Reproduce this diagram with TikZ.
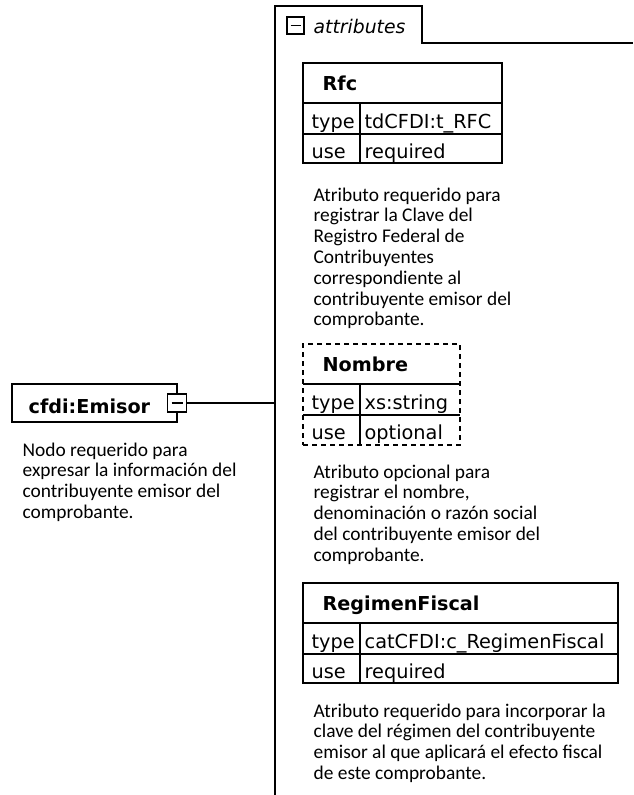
\documentclass[tikz,border=0pt]{standalone}
\usepackage{fontspec}
\setmainfont{DejaVu Sans}
\newfontfamily\descfont{Carlito}
\begin{document}
\begin{tikzpicture}[x=1pt,y=-1pt,
  line width=1.3pt,
  box/.style={draw, line width=1.3pt, inner sep=0pt, outer sep=0pt, anchor=north west},
  dbox/.style={box, dash pattern=on 5pt off 4pt},
  sq/.style={draw, line width=1.1pt, fill=white, inner sep=0pt, outer sep=0pt, minimum width=19pt, minimum height=18pt},
  titletext/.style={anchor=base west, inner sep=0pt, font=\fontsize{19.2pt}{22pt}\selectfont\bfseries},
  celltext/.style={anchor=base west, inner sep=0pt, font=\fontsize{19.3pt}{22pt}\selectfont},
  desc/.style={anchor=north west, inner sep=0pt, align=left, font=\descfont\fontsize{19.4pt}{20.8pt}\selectfont},
  tabtext/.style={anchor=base west, inner sep=0pt, font=\fontsize{18.8pt}{22pt}\selectfont\itshape}
]
\useasboundingbox (0,0) rectangle (633,795);

% attributes tab and vertical line
\draw (275,795) -- (275,6) -- (422,6) -- (422,43) -- (633,43);
\node[sq, minimum width=17pt, minimum height=17pt] (tabSq) at (295.5,25.5) {};
\draw[line width=1.1pt] ([xshift=3.5pt]tabSq.west) -- ([xshift=-3.5pt]tabSq.east);
\node[tabtext] (tabLbl) at (313,33) {attributes};
\coordinate (attrLine) at (275,403);

% cfdi:Emisor
\node[box, minimum width=165pt, minimum height=38pt] (emisor) at (12,384) {};
\node[titletext] (emisorLbl) at (28,413) {cfdi:Emisor};
\node[sq] (emisorSq) at (emisor.east) {};
\draw[line width=1.1pt] ([xshift=4pt]emisorSq.west) -- ([xshift=-4pt]emisorSq.east);
\draw (emisorSq.east) -- (attrLine);
\node[desc] (emisorDesc) at (22,442) {Nodo requerido para\\expresar la información del\\contribuyente emisor del\\comprobante.};

% Rfc
\node[box, minimum width=199pt, minimum height=100pt] (rfc) at (303,63) {};
\draw ([yshift=-40pt]rfc.north west) -- ([yshift=-40pt]rfc.north east);
\draw ([yshift=-71pt]rfc.north west) -- ([yshift=-71pt]rfc.north east);
\draw ([xshift=57pt,yshift=-40pt]rfc.north west) -- ([xshift=57pt]rfc.south west);
\node[titletext] (rfcName) at ([xshift=19pt,yshift=-27pt]rfc.north west) {Rfc};
\node[celltext] (rfcTypeL) at ([xshift=8pt,yshift=-65pt]rfc.north west) {type};
\node[celltext] (rfcTypeV) at ([xshift=61pt,yshift=-65pt]rfc.north west) {tdCFDI:t\_RFC};
\node[celltext] (rfcUseL) at ([xshift=8pt,yshift=-95pt]rfc.north west) {use};
\node[celltext] (rfcUseV) at ([xshift=61pt,yshift=-95pt]rfc.north west) {required};
\node[desc] (rfcDesc) at (313,187) {Atributo requerido para\\registrar la Clave del\\Registro Federal de\\Contribuyentes\\correspondiente al\\contribuyente emisor del\\comprobante.};

% Nombre
\node[dbox, minimum width=157pt, minimum height=101pt] (nom) at (303,344) {};
\draw ([yshift=-40pt]nom.north west) -- ([yshift=-40pt]nom.north east);
\draw ([yshift=-71pt]nom.north west) -- ([yshift=-71pt]nom.north east);
\draw ([xshift=57pt,yshift=-40pt]nom.north west) -- ([xshift=57pt]nom.south west);
\node[titletext] (nomName) at ([xshift=19pt,yshift=-27pt]nom.north west) {Nombre};
\node[celltext] (nomTypeL) at ([xshift=8pt,yshift=-65pt]nom.north west) {type};
\node[celltext] (nomTypeV) at ([xshift=61pt,yshift=-65pt]nom.north west) {xs:string};
\node[celltext] (nomUseL) at ([xshift=8pt,yshift=-95pt]nom.north west) {use};
\node[celltext] (nomUseV) at ([xshift=61pt,yshift=-95pt]nom.north west) {optional};
\node[desc] (nomDesc) at (313,464) {Atributo opcional para\\registrar el nombre,\\denominación o razón social\\del contribuyente emisor del\\comprobante.};

% RegimenFiscal
\node[box, minimum width=315pt, minimum height=100pt] (reg) at (303,583) {};
\draw ([yshift=-40pt]reg.north west) -- ([yshift=-40pt]reg.north east);
\draw ([yshift=-71pt]reg.north west) -- ([yshift=-71pt]reg.north east);
\draw ([xshift=57pt,yshift=-40pt]reg.north west) -- ([xshift=57pt]reg.south west);
\node[titletext] (regName) at ([xshift=19pt,yshift=-27pt]reg.north west) {RegimenFiscal};
\node[celltext] (regTypeL) at ([xshift=8pt,yshift=-65pt]reg.north west) {type};
\node[celltext] (regTypeV) at ([xshift=61pt,yshift=-65pt]reg.north west) {catCFDI:c\_RegimenFiscal};
\node[celltext] (regUseL) at ([xshift=8pt,yshift=-95pt]reg.north west) {use};
\node[celltext] (regUseV) at ([xshift=61pt,yshift=-95pt]reg.north west) {required};
\node[desc] (regDesc) at (313,703) {Atributo requerido para incorporar la\\clave del régimen del contribuyente\\emisor al que aplicará el efecto fiscal\\de este comprobante.};
\end{tikzpicture}
\end{document}
